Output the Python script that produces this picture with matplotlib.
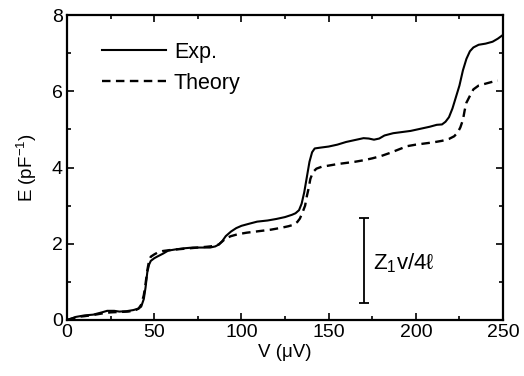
import numpy as np
import matplotlib
matplotlib.use('Agg')
import matplotlib.pyplot as plt
from matplotlib.ticker import MultipleLocator

# measured curve (Exp.)
exp_v = [0, 2, 5, 10, 15, 20, 23, 27, 30, 34, 38, 41, 42.5, 44, 45, 46, 47, 48,
         50, 52, 55, 58, 62, 67, 72, 77, 82, 85, 87, 89, 91, 94, 97, 100, 104,
         109, 115, 120, 125, 129, 131, 133, 134.5, 136, 137.5, 139, 140.5, 142,
         145, 150, 155, 160, 165, 170, 173, 176, 179, 182, 187, 192, 197, 203,
         208, 212, 215, 217, 219, 221, 223, 225, 227, 229, 231, 233, 236, 240,
         244, 247, 250]
exp_e = [0, 0.03, 0.08, 0.12, 0.14, 0.2, 0.24, 0.24, 0.22, 0.23, 0.26, 0.3,
         0.35, 0.55, 0.85, 1.25, 1.45, 1.55, 1.62, 1.67, 1.74, 1.82, 1.85, 1.88,
         1.9, 1.9, 1.9, 1.93, 1.98, 2.07, 2.2, 2.32, 2.41, 2.47, 2.52, 2.58,
         2.61, 2.65, 2.7, 2.76, 2.8, 2.88, 3.05, 3.35, 3.75, 4.15, 4.4, 4.5,
         4.52, 4.55, 4.6, 4.67, 4.72, 4.77, 4.76, 4.73, 4.76, 4.84, 4.9, 4.93,
         4.96, 5.02, 5.07, 5.12, 5.13, 5.2, 5.32, 5.55, 5.85, 6.15, 6.55, 6.85,
         7.05, 7.15, 7.22, 7.25, 7.3, 7.38, 7.48]

# theory curve
th_v = [0, 3, 6, 10, 15, 20, 25, 30, 35, 39, 41, 42.5, 44, 45, 46, 47, 48, 50,
        52, 55, 60, 65, 70, 75, 80, 84, 87, 89, 91, 94, 98, 103, 110, 117, 123,
        127, 130, 132, 133.5, 135, 136.5, 137.5, 138.5, 139.5, 141, 143, 146,
        150, 155, 160, 165, 170, 175, 180, 185, 190, 195, 200, 205, 210, 215,
        219, 222, 224, 225.5, 227, 228, 229, 231, 233, 236, 240, 244, 247]
th_e = [0, 0.04, 0.08, 0.1, 0.13, 0.17, 0.2, 0.21, 0.22, 0.25, 0.3, 0.4, 0.65,
        0.95, 1.3, 1.55, 1.66, 1.72, 1.77, 1.81, 1.84, 1.86, 1.88, 1.9, 1.92,
        1.94, 1.98, 2.06, 2.14, 2.2, 2.25, 2.29, 2.33, 2.37, 2.42, 2.46, 2.5,
        2.57, 2.66, 2.82, 3.0, 3.25, 3.45, 3.7, 3.88, 3.97, 4.02, 4.05, 4.09,
        4.12, 4.15, 4.19, 4.24, 4.3, 4.38, 4.47, 4.56, 4.6, 4.63, 4.66, 4.7,
        4.75, 4.82, 4.92, 5.05, 5.25, 5.5, 5.7, 5.88, 6.05, 6.15, 6.2, 6.25,
        6.28]

# scale bar Z1 v / 4l
bar_v = 170
bar_lo, bar_hi = 0.45, 2.68

plt.rcParams['font.family'] = ['Liberation Sans', 'DejaVu Sans']
plt.rcParams['mathtext.fontset'] = 'custom'
plt.rcParams['mathtext.rm'] = 'Liberation Sans'

fig = plt.figure(figsize=(5.24, 3.76), dpi=100)
ax = fig.add_axes([0.128, 0.149, 0.832, 0.811])

ax.plot(exp_v, exp_e, '-', color='black', lw=1.5, label='Exp.')
ax.plot(th_v, th_e, color='black', lw=1.7, dashes=(3.6, 2.3), label='Theory')

ax.errorbar([bar_v], [(bar_lo + bar_hi) / 2], yerr=[(bar_hi - bar_lo) / 2],
            color='black', lw=1.3, capsize=3.5, capthick=1.3)
ax.text(bar_v + 5.5, 1.5, r'Z$_\mathregular{1}$v/4ℓ', fontsize=16,
        va='center', ha='left')

ax.set_xlim(0, 250)
ax.set_ylim(0, 8)
ax.xaxis.set_major_locator(MultipleLocator(50))
ax.xaxis.set_minor_locator(MultipleLocator(25))
ax.yaxis.set_major_locator(MultipleLocator(2))
ax.yaxis.set_minor_locator(MultipleLocator(1))
ax.tick_params(which='both', direction='in', top=True, right=True,
               labelsize=14, width=1.2)
ax.tick_params(which='major', length=5, pad=3)
ax.tick_params(which='minor', length=3)
for s in ax.spines.values():
    s.set_linewidth(1.6)

ax.set_xlabel('V (μV)', fontsize=13.5, labelpad=2)
ax.set_ylabel('E (pF$^{-1}$)', fontsize=13.5, labelpad=9)

ax.legend(loc='upper left', bbox_to_anchor=(0.06, 0.94), frameon=False,
          fontsize=15.5, handlelength=3.0, handletextpad=0.35,
          labelspacing=0.45, borderaxespad=0)

fig.savefig('out.png', dpi=100)
